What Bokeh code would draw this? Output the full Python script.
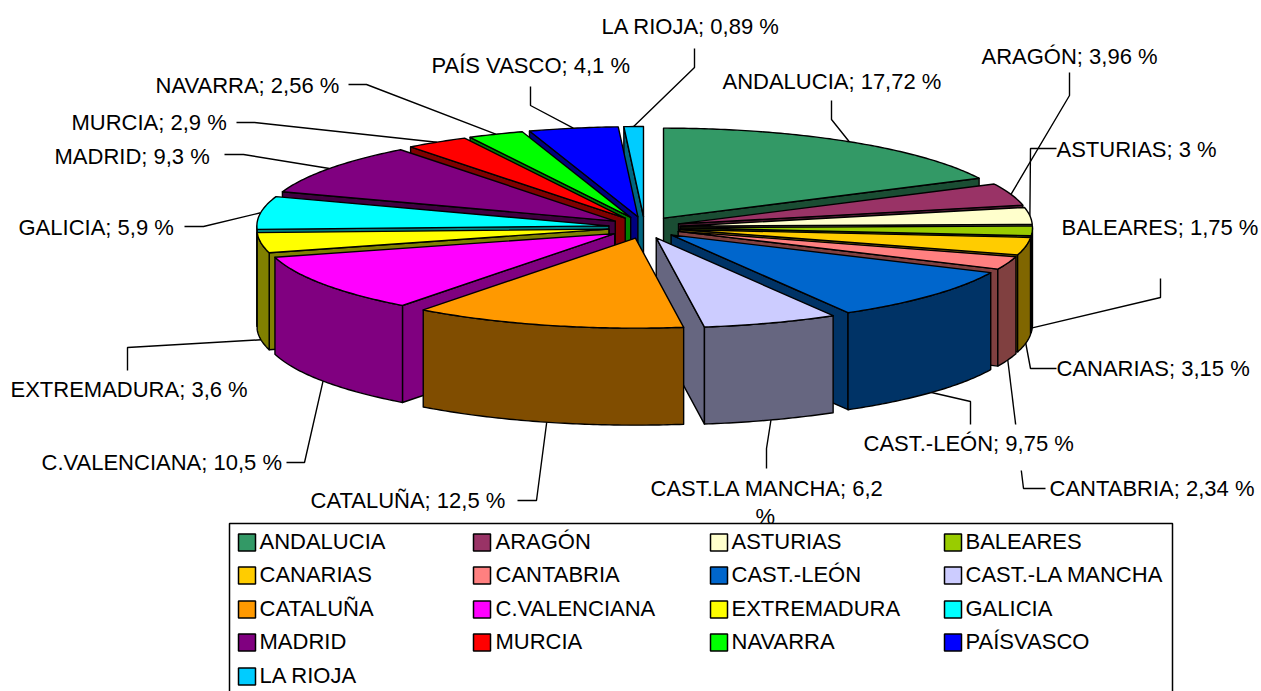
import math
from bokeh.plotting import figure
from bokeh.models import Range1d
from bokeh.core.properties import value
from bokeh.embed import file_html
from bokeh.resources import INLINE

# ---- data ----
regions = ["ANDALUCIA", "ARAGÓN", "ASTURIAS", "BALEARES", "CANARIAS", "CANTABRIA",
           "CAST.-LEÓN", "CAST.-LA MANCHA", "CATALUÑA", "C.VALENCIANA", "EXTREMADURA",
           "GALICIA", "MADRID", "MURCIA", "NAVARRA", "PAÍSVASCO", "LA RIOJA"]
shares = [17.72, 3.96, 3, 1.75, 3.15, 2.34, 9.75, 6.2, 12.5, 10.5, 3.6, 5.9, 9.3, 2.9, 2.56, 4.1, 0.89]
share_labels = ["ANDALUCIA; 17,72 %", "ARAGÓN; 3,96 %", "ASTURIAS; 3 %", "BALEARES; 1,75 %",
                "CANARIAS; 3,15 %", "CANTABRIA; 2,34 %", "CAST.-LEÓN; 9,75 %",
                "CAST.LA MANCHA; 6,2", "CATALUÑA; 12,5 %", "C.VALENCIANA; 10,5 %",
                "EXTREMADURA; 3,6 %", "GALICIA; 5,9 %", "MADRID; 9,3 %", "MURCIA; 2,9 %",
                "NAVARRA; 2,56 %", "PAÍS VASCO; 4,1 %", "LA RIOJA; 0,89 %"]
colors = ["#339966", "#993366", "#FFFFCC", "#99CC00", "#FFCC00", "#FF8080", "#0066CC", "#CCCCFF",
          "#FF9900", "#FF00FF", "#FFFF00", "#00FFFF", "#800080", "#FF0000", "#00FF00", "#0000FF", "#00CCFF"]

# ---- layout (page pixels) ----
CX, CY = 644.0, 227.0      # pie centre
RX, RY = 352.0, 90.0       # top ellipse radii
EX, EY = 36.0, 11.0        # explosion offset
DEPTH = 97.0
LW = 1.4
FONT = value("Liberation Sans")
FS = "22px"

label_pos = [(722, 81), (981, 56), (1056, 149), (1061, 227), (1056, 368), (1049, 488), (863, 443),
             (650, 488), (310, 500), (41, 462), (10, 389), (18, 227), (54, 156), (71, 122),
             (155, 85), (431, 65), (601, 26)]
# leader paths: from the label side towards the slice, the slice end is computed
leader_via = [[(831, 100), (831, 119)], [(1069, 72), (1069, 95)], [(1056, 148), (1030, 148)],
              [(1160, 278), (1160, 297)], [(1056, 368), (1030, 368)], [(1045, 488), (1023, 488)],
              [(970, 424), (970, 401)], [(766, 468), (766, 448)], [(517, 500), (536, 500)],
              [(286, 462), (304, 462)], [(127, 370), (127, 347)], [(184, 226), (203, 226)],
              [(224, 154), (243, 154)], [(236, 122), (254, 122)], [(348, 84), (366, 84)],
              [(530, 86), (530, 105)], [(694, 48), (694, 67)]]

legend_cols = [(238, 259), (473, 495), (710, 731), (944, 965)]
legend_rows = [542, 575, 609, 642, 676]
SW = 17


def half(c):
    r, g, b = int(c[1:3], 16), int(c[3:5], 16), int(c[5:7], 16)
    return "#%02X%02X%02X" % ((r + 1) // 2, (g + 1) // 2, (b + 1) // 2)


def unit(deg):
    a = math.radians(deg)
    return math.sin(a), -math.cos(a)


def rim(ax, ay, deg):
    ux, uy = unit(deg)
    return ax + RX * ux, ay + RY * uy


total = sum(shares)
slices = []
acc = 0.0
for i, s in enumerate(shares):
    a0 = acc / total * 360
    acc += s
    a1 = acc / total * 360
    mid = (a0 + a1) / 2
    ux, uy = unit(mid)
    slices.append(dict(i=i, a0=a0, a1=a1, mid=mid, ax=CX + EX * ux, ay=CY + EY * uy, key=uy))

xs, ys, fills = [], [], []


def poly(pts, color):
    xs.append([q[0] for q in pts])
    ys.append([q[1] for q in pts])
    fills.append(color)


def arc_points(ax, ay, a0, a1):
    n = max(2, int((a1 - a0) * 1.5) + 1)
    return [rim(ax, ay, a0 + (a1 - a0) * k / (n - 1)) for k in range(n)]


for sl in sorted(slices, key=lambda d: d["key"]):
    c = colors[sl["i"]]
    dark = half(c)
    ax, ay, a0, a1 = sl["ax"], sl["ay"], sl["a0"], sl["a1"]
    for ang, visible in ((a0, 180 < a0 < 360), (a1, 0 < a1 < 180)):
        if visible:
            rx_, ry_ = rim(ax, ay, ang)
            poly([(ax, ay), (rx_, ry_), (rx_, ry_ + DEPTH), (ax, ay + DEPTH)], dark)
    lo, hi = max(a0, 90), min(a1, 270)
    if hi > lo:
        top = arc_points(ax, ay, lo, hi)
        poly(top + [(x, y + DEPTH) for x, y in reversed(top)], dark)
    poly([(ax, ay)] + arc_points(ax, ay, a0, a1), c)

p = figure(width=1261, height=691, output_backend="svg", toolbar_location=None,
           x_range=Range1d(0, 1261), y_range=Range1d(691, 0), min_border=0,
           outline_line_color=None, background_fill_color="white")
p.axis.visible = False
p.grid.visible = False

# leaders
lx, ly = [], []
for sl in slices:
    via = leader_via[sl["i"]]
    ex, ey = rim(sl["ax"], sl["ay"], sl["mid"])
    if 90 < sl["mid"] < 270:
        ey += DEPTH
    if regions[sl["i"]] == "CANTABRIA":
        # passes behind the CAST.-LEÓN label
        t0 = (ey - 424) / (ey - via[1][1])
        lx.append([ex, ex + (via[1][0] - ex) * t0])
        ly.append([ey, 424])
        t1 = (ey - 470) / (ey - via[1][1])
        lx.append([ex + (via[1][0] - ex) * t1] + [q[0] for q in reversed(via)])
        ly.append([470] + [q[1] for q in reversed(via)])
        continue
    lx.append([q[0] for q in via] + [ex])
    ly.append([q[1] for q in via] + [ey])
p.multi_line(lx, ly, line_color="black", line_width=LW)

p.patches(xs, ys, fill_color=fills, line_color="black", line_width=LW, line_join="round")

# data labels
p.text([q[0] for q in label_pos], [q[1] for q in label_pos], text=share_labels,
       text_font=FONT, text_font_size=FS, text_baseline="middle", text_align="left", text_color="black")
p.text([755], [516], text=["%"], text_font=FONT, text_font_size=FS,
       text_baseline="middle", text_align="left", text_color="black")

# legend box (runs off the bottom of the page)
p.multi_line([[229, 229, 1172, 1172]], [[700, 523, 523, 700]], line_color="black", line_width=1.5)
n_cols = len(legend_cols)
sx = [legend_cols[k % n_cols][0] for k in range(len(regions))]
sy = [legend_rows[k // n_cols] for k in range(len(regions))]
tx = [legend_cols[k % n_cols][1] for k in range(len(regions))]
p.patches([[x, x + SW, x + SW, x] for x in sx],
          [[y - SW / 2, y - SW / 2, y + SW / 2, y + SW / 2] for y in sy],
          fill_color=colors, line_color="black", line_width=1.5)
p.text(tx, [y - 1 for y in sy], text=regions, text_font=FONT, text_font_size=FS,
       text_baseline="middle", text_align="left", text_color="black")

open("out.html", "w").write(file_html(p, INLINE))
